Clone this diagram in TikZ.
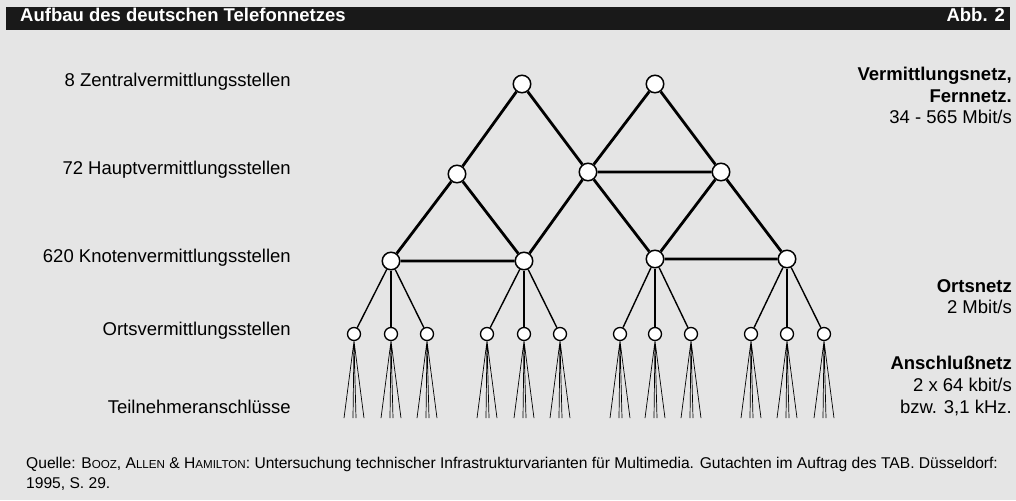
\documentclass[tikz,border=0pt]{standalone}
\usepackage{fontspec}
\setmainfont{Liberation Sans}
\definecolor{paper}{gray}{0.90}
\definecolor{bar}{gray}{0.10}
\newcommand{\fsc}[2]{#1{\fontsize{11.6}{14}\selectfont #2}}
\begin{document}
\begin{tikzpicture}[x=1pt,y=-1pt,
  big/.style={circle,draw,fill=white,line width=1.5pt,minimum size=17.5pt,inner sep=0pt},
  small/.style={circle,draw,fill=white,line width=1.3pt,minimum size=13pt,inner sep=0pt},
  trunk/.style={line width=2.8pt},
  branch/.style={line width=1.4pt},
  wire/.style={line width=0.7pt},
  lab/.style={inner sep=0pt,font=\fontsize{18.5}{20}\selectfont},
  blab/.style={inner sep=0pt,font=\bfseries\fontsize{18.5}{20}\selectfont},
  src/.style={inner sep=0pt,anchor=base west,font=\fontsize{15.6}{18}\selectfont}]
\useasboundingbox (0,0) rectangle (1016,500);
\fill[paper] (0,0) rectangle (1016,500);
% title bar
\fill[bar] (6,7) rectangle (1010,30);
\node[blab,text=white,anchor=mid west] (title) at (20,18.5) {Aufbau des deutschen Telefonnetzes};
\node[blab,text=white,anchor=mid east] (abb) at (1005,18.5) {Abb. 2};

% network nodes
\node[big] (z1) at (522,84) {};
\node[big] (z2) at (655,84) {};
\node[big] (h1) at (457,174) {};
\node[big] (h2) at (588,172) {};
\node[big] (h3) at (721,172) {};
\node[big] (k1) at (391,261) {};
\node[big] (k2) at (524,261) {};
\node[big] (k3) at (655,259) {};
\node[big] (k4) at (787,259) {};

\draw[trunk] (z1) -- (h1) (z1) -- (h2) (z2) -- (h2) (z2) -- (h3) (h2) -- (h3)
  (h1) -- (k1) (h1) -- (k2) (h2) -- (k2) (h2) -- (k3) (h3) -- (k3) (h3) -- (k4)
  (k1) -- (k2) (k3) -- (k4);

% local exchanges and subscriber lines
\foreach \p/\x in {k1/354,k1/391,k1/427,k2/487,k2/524,k2/560,k3/620,k3/655,k3/691,k4/751,k4/787,k4/824}{
  \node[small] (o\x) at (\x,334) {};
  \draw[branch] (\p) -- (o\x);
  \draw[wire] (o\x.south) -- ++(-10,77) (o\x.south) -- ++(-1,77)
              (o\x.south) -- ++(2,77) (o\x.south) -- ++(10,77);
}

% level labels
\node[lab,anchor=mid east] (l1) at (291,84) {8 Zentralvermittlungsstellen};
\node[lab,anchor=mid east] (l2) at (291,172) {72 Hauptvermittlungsstellen};
\node[lab,anchor=mid east] (l3) at (291,260) {620 Knotenvermittlungsstellen};
\node[lab,anchor=mid east] (l4) at (291,333) {Ortsvermittlungsstellen};
\node[lab,anchor=mid east] (l5) at (291,411) {Teilnehmeranschlüsse};

% network descriptions
\node[blab,anchor=mid east] (r1) at (1012,78) {Vermittlungsnetz,};
\node[blab,anchor=mid east] (r2) at (1012,100) {Fernnetz.};
\node[lab,anchor=mid east] (r3) at (1012,121) {34 - 565 Mbit/s};
\node[blab,anchor=mid east] (r4) at (1012,290) {Ortsnetz};
\node[lab,anchor=mid east] (r5) at (1012,311) {2 Mbit/s};
\node[blab,anchor=mid east] (r6) at (1012,367) {Anschlußnetz};
\node[lab,anchor=mid east] (r7) at (1012,389) {2 x 64 kbit/s};
\node[lab,anchor=mid east] (r8) at (1012,411) {bzw. 3,1 kHz.};

% source
\node[src] (q1) at (26,468) {Quelle: \fsc{B}{OOZ}, \fsc{A}{LLEN} \& \fsc{H}{AMILTON}: Untersuchung technischer Infrastrukturvarianten für Multimedia. Gutachten im Auftrag des TAB. Düsseldorf:};
\node[src] (q2) at (26,488) {1995, S. 29.};
\end{tikzpicture}
\end{document}
